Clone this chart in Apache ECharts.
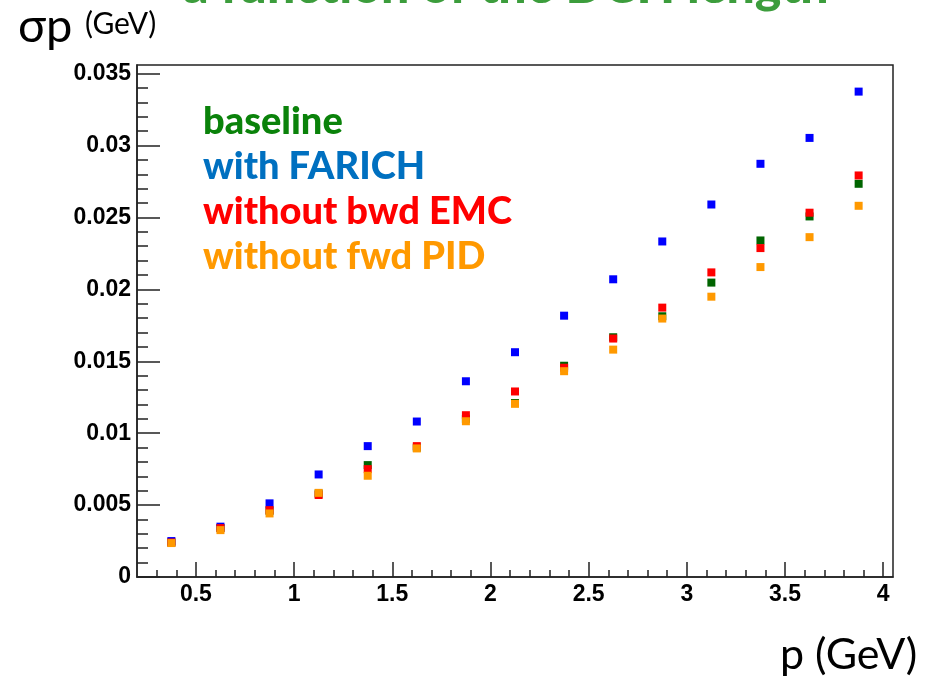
<!DOCTYPE html>
<html>
<head>
<meta charset="utf-8">
<script src="https://cdn.jsdelivr.net/npm/echarts@6/dist/echarts.min.js"></script>
<style>
html,body{margin:0;padding:0;background:#fff;}
#chart{width:932px;height:676px;}
</style>
</head>
<body>
<div id="chart"></div>
<script>
// momentum bin centres (GeV)
const pValues = [0.375, 0.625, 0.875, 1.125, 1.375, 1.625, 1.875, 2.125, 2.375, 2.625, 2.875, 3.125, 3.375, 3.625, 3.875];

// sigma_p (GeV) per configuration
const baseline   = [0.0024, 0.0034, 0.0046, 0.0058, 0.00778, 0.0090, 0.0110, 0.0121, 0.01469, 0.01667, 0.01813, 0.02047, 0.0234, 0.02507, 0.02734];
const withFarich = [0.0025, 0.0035, 0.00512, 0.00713, 0.0091, 0.01081, 0.01361, 0.01563, 0.01817, 0.0207, 0.02333, 0.0259, 0.02873, 0.03053, 0.03375];
const noBwdEmc   = [0.0024, 0.0034, 0.00465, 0.0057, 0.0075, 0.0091, 0.01125, 0.0129, 0.01455, 0.01658, 0.01873, 0.02118, 0.02287, 0.02533, 0.02792];
const noFwdPid   = [0.00236, 0.00326, 0.00442, 0.00585, 0.00704, 0.00894, 0.01083, 0.01204, 0.01431, 0.01581, 0.01797, 0.01949, 0.02155, 0.02363, 0.02581];

const seriesNames  = ['baseline', 'with FARICH', 'without bwd EMC', 'without fwd PID'];
const markerColors = ['#006400', '#0000ff', '#ff0000', '#ff9900'];
const legendColors = ['#0a820a', '#0070c0', '#ff0000', '#ff9900'];

// axis ticks
const xMajorTicks = [0.5, 1, 1.5, 2, 2.5, 3, 3.5, 4];
const xMinorTicks = [0.3, 0.4, 0.6, 0.7, 0.8, 0.9, 1.1, 1.2, 1.3, 1.4, 1.6, 1.7, 1.8, 1.9, 2.1, 2.2, 2.3, 2.4, 2.6, 2.7, 2.8, 2.9, 3.1, 3.2, 3.3, 3.4, 3.6, 3.7, 3.8, 3.9];
const yMajorTicks = [0, 0.005, 0.01, 0.015, 0.02, 0.025, 0.03, 0.035];
const yMinorTicks = [0.001, 0.002, 0.003, 0.004, 0.006, 0.007, 0.008, 0.009, 0.011, 0.012, 0.013, 0.014, 0.016, 0.017, 0.018, 0.019, 0.021, 0.022, 0.023, 0.024, 0.026, 0.027, 0.028, 0.029, 0.031, 0.032, 0.033, 0.034];

const allValues = [baseline, withFarich, noBwdEmc, noFwdPid];

const chart = echarts.init(document.getElementById('chart'), null, {renderer: 'canvas'});

const axisLineStyle = {color: '#222', width: 1.5};
const labelFont = {fontFamily: 'Liberation Sans', fontWeight: 'bold', fontSize: 23, color: '#000'};

const option = {
  backgroundColor: '#ffffff',
  animation: false,
  grid: {left: 137, right: 39, top: 65, bottom: 99, show: true, borderColor: '#222', borderWidth: 1.5, backgroundColor: 'transparent'},
  legend: {
    show: true,
    orient: 'vertical',
    left: 193,
    top: 98,
    icon: 'none',
    itemWidth: 0,
    itemHeight: 0,
    itemGap: 7,
    selectedMode: false,
    textStyle: {fontFamily: 'Lato', fontWeight: 900, fontSize: 38},
    data: seriesNames.map((n, i) => ({name: n, textStyle: {color: legendColors[i]}}))
  },
  xAxis: [
    {
      type: 'value', min: 0.2, max: 4.05, position: 'bottom',
      axisLine: {show: true, onZero: false, lineStyle: axisLineStyle},
      axisTick: {show: true, inside: true, length: 15, lineStyle: axisLineStyle, customValues: xMajorTicks},
      axisLabel: Object.assign({show: true, margin: 6, customValues: xMajorTicks}, labelFont),
      splitLine: {show: false}
    },
    {
      type: 'value', min: 0.2, max: 4.05, position: 'bottom',
      axisLine: {show: false},
      axisTick: {show: true, inside: true, length: 7, lineStyle: axisLineStyle, customValues: xMinorTicks},
      axisLabel: {show: false},
      splitLine: {show: false}
    }
  ],
  yAxis: [
    {
      type: 'value', min: 0, max: 0.0356, position: 'left',
      axisLine: {show: true, onZero: false, lineStyle: axisLineStyle},
      axisTick: {show: true, inside: true, length: 23, lineStyle: axisLineStyle, customValues: yMajorTicks},
      axisLabel: Object.assign({show: true, margin: 6, customValues: yMajorTicks}, labelFont),
      splitLine: {show: false}
    },
    {
      type: 'value', min: 0, max: 0.0356, position: 'left',
      axisLine: {show: false},
      axisTick: {show: true, inside: true, length: 11, lineStyle: axisLineStyle, customValues: yMinorTicks},
      axisLabel: {show: false},
      splitLine: {show: false}
    }
  ],
  series: seriesNames.map((n, i) => ({
    name: n,
    type: 'scatter',
    xAxisIndex: 0,
    yAxisIndex: 0,
    symbol: 'rect',
    symbolSize: 8,
    itemStyle: {color: markerColors[i], opacity: 1},
    emphasis: {disabled: true},
    data: pValues.map((p, k) => [p, allValues[i][k]])
  })),
  graphic: [
    {
      type: 'text', left: 183, top: -38, silent: true,
      style: {text: 'a function of the DCH length', fill: '#3c9d3c', font: '900 50px Lato'}
    },
    {
      type: 'text', left: 18, top: 3, silent: true,
      style: {text: 'σp', fill: '#000', font: '400 47px Lato'}
    },
    {
      type: 'text', left: 85, top: 9, silent: true,
      style: {text: '(GeV)', fill: '#000', font: '400 30px Lato'}
    },
    {
      type: 'text', left: 780, top: 634, silent: true,
      style: {text: 'p (GeV)', fill: '#000', font: '400 43px Lato'}
    }
  ]
};

chart.setOption(option);
</script>
</body>
</html>
